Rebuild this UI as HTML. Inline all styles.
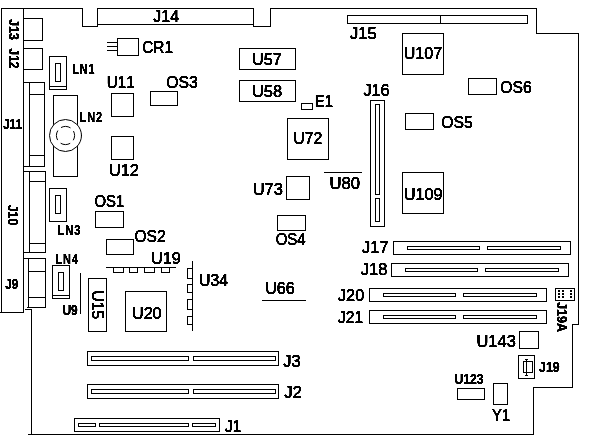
<!DOCTYPE html>
<html><head><meta charset="utf-8"><title>System board</title>
<style>
html,body{margin:0;padding:0;background:#fff;}
svg{display:block}
text{font-family:"Liberation Sans",sans-serif;fill:#000;stroke:#000;stroke-linejoin:round;font-kerning:none}
text.r{font-size:16px;stroke-width:0.45px}
text.b{font-size:14px;font-weight:bold;stroke-width:0.3px}
</style></head><body>
<svg width="600" height="439" viewBox="0 0 600 439">
<rect width="600" height="439" fill="#fff"/>
<g fill="none" stroke="#000" stroke-width="1" stroke-linecap="square" shape-rendering="crispEdges">
<path d="M1.5 8.5L82.5 8.5L82.5 26.5L97.5 26.5L97.5 8.5L253.5 8.5L253.5 26.5L270.5 26.5L270.5 8.5L536.5 8.5L536.5 33.5L578.5 33.5L578.5 324.5L572.5 324.5L572.5 387.5L533.5 387.5L533.5 434.5L28.5 434.5"/>
<path d="M97.5 24.5L253.5 24.5"/>
<path d="M1.5 8.5L1.5 312.5L23.5 312.5L23.5 8.5"/>
<path d="M0.5 312.5L1.5 312.5"/>
<path d="M25.5 309.5L31.5 309.5L31.5 434.5"/>
<rect x="23.5" y="18.5" width="19" height="22"/>
<rect x="23.5" y="48.5" width="19" height="21"/>
<rect x="23.5" y="82.5" width="21" height="84"/>
<path d="M29.5 82.5L29.5 166.5"/>
<path d="M29.5 94.5L44.5 94.5"/>
<path d="M29.5 155.5L44.5 155.5"/>
<rect x="23.5" y="171.5" width="22" height="81"/>
<path d="M29.5 171.5L29.5 252.5"/>
<path d="M29.5 181.5L45.5 181.5"/>
<path d="M29.5 243.5L45.5 243.5"/>
<path d="M23.5 258.5L45.5 258.5L45.5 307.5L27.5 307.5"/>
<path d="M28.5 258.5L28.5 307.5"/>
<path d="M28.5 271.5L45.5 271.5"/>
<path d="M28.5 297.5L45.5 297.5"/>
<rect x="49.5" y="56.5" width="17" height="33"/>
<path d="M49.5 86.5L66.5 86.5"/>
<rect x="55.5" y="63.5" width="5" height="18"/>
<rect x="49.5" y="188.5" width="17" height="33"/>
<rect x="55.5" y="195.5" width="5" height="18"/>
<rect x="52.5" y="265.5" width="17" height="33"/>
<path d="M52.5 295.5L69.5 295.5"/>
<rect x="58.5" y="272.5" width="5" height="18"/>
<rect x="53.5" y="95.5" width="24" height="81"/>
<circle cx="65.5" cy="135.5" r="16" fill="#fff" shape-rendering="geometricPrecision"/>
<circle cx="65.5" cy="135.5" r="9.1" stroke-dasharray="10 4.3" stroke-dashoffset="5" stroke-linecap="butt" shape-rendering="geometricPrecision"/>
<rect x="117.5" y="38.5" width="21" height="17"/>
<path d="M107.5 42.5L117.5 42.5"/>
<path d="M107.5 46.5L117.5 46.5"/>
<path d="M107.5 50.5L117.5 50.5"/>
<rect x="111.5" y="93.5" width="22" height="23"/>
<rect x="111.5" y="136.5" width="22" height="23"/>
<rect x="150.5" y="91.5" width="27" height="14"/>
<rect x="239.5" y="48.5" width="56" height="21"/>
<rect x="239.5" y="80.5" width="56" height="21"/>
<rect x="347.5" y="15.5" width="180" height="8"/>
<path d="M440.5 15.5L440.5 23.5"/>
<rect x="402.5" y="33.5" width="41" height="41"/>
<rect x="402.5" y="172.5" width="41" height="41"/>
<rect x="370.5" y="100.5" width="14" height="126"/>
<rect x="375.5" y="104.5" width="4" height="90"/>
<rect x="375.5" y="198.5" width="4" height="23"/>
<rect x="301.5" y="103.5" width="11" height="6"/>
<rect x="468.5" y="78.5" width="28" height="16"/>
<rect x="405.5" y="113.5" width="28" height="16"/>
<rect x="287.5" y="118.5" width="41" height="41"/>
<rect x="286.5" y="176.5" width="23" height="23"/>
<path d="M324.5 172.5L361.5 172.5"/>
<rect x="277.5" y="215.5" width="28" height="15"/>
<rect x="95.5" y="211.5" width="28" height="16"/>
<rect x="106.5" y="239.5" width="27" height="15"/>
<path d="M106.5 267.5L175.5 267.5"/>
<path d="M113.5 267.5L113.5 272.5L123.5 272.5L123.5 267.5"/>
<path d="M129.5 267.5L129.5 272.5L137.5 272.5L137.5 267.5"/>
<path d="M144.5 267.5L144.5 272.5L154.5 272.5L154.5 267.5"/>
<path d="M161.5 267.5L161.5 272.5L169.5 272.5L169.5 267.5"/>
<path d="M80.5 273.5L80.5 313.5"/>
<rect x="88.5" y="278.5" width="18" height="53"/>
<rect x="125.5" y="291.5" width="41" height="40"/>
<path d="M192.5 261.5L192.5 330.5"/>
<path d="M192.5 268.5L187.5 268.5L187.5 278.5L192.5 278.5"/>
<path d="M192.5 284.5L187.5 284.5L187.5 292.5L192.5 292.5"/>
<path d="M192.5 299.5L187.5 299.5L187.5 309.5L192.5 309.5"/>
<path d="M192.5 316.5L187.5 316.5L187.5 324.5L192.5 324.5"/>
<path d="M262.5 300.5L305.5 300.5"/>
<rect x="393.5" y="241.5" width="177" height="13"/>
<rect x="407.5" y="246.5" width="72" height="3"/>
<rect x="487.5" y="246.5" width="73" height="3"/>
<rect x="391.5" y="263.5" width="177" height="13"/>
<rect x="405.5" y="268.5" width="72" height="3"/>
<rect x="485.5" y="268.5" width="73" height="3"/>
<rect x="369.5" y="288.5" width="177" height="13"/>
<rect x="383.5" y="293.5" width="72" height="3"/>
<rect x="463.5" y="293.5" width="73" height="3"/>
<rect x="369.5" y="310.5" width="177" height="13"/>
<rect x="383.5" y="315.5" width="72" height="3"/>
<rect x="463.5" y="315.5" width="73" height="3"/>
<rect x="555.5" y="288.5" width="19" height="12"/>
<rect x="558" y="290" width="2" height="2" fill="#000" stroke="none"/>
<rect x="558" y="293" width="2" height="2" fill="#000" stroke="none"/>
<rect x="558" y="296" width="2" height="2" fill="#000" stroke="none"/>
<rect x="562" y="290" width="2" height="2" fill="#000" stroke="none"/>
<rect x="562" y="293" width="2" height="2" fill="#000" stroke="none"/>
<rect x="562" y="296" width="2" height="2" fill="#000" stroke="none"/>
<rect x="570" y="290" width="2" height="2" fill="#000" stroke="none"/>
<rect x="570" y="293" width="2" height="2" fill="#000" stroke="none"/>
<rect x="570" y="296" width="2" height="2" fill="#000" stroke="none"/>
<rect x="519.5" y="331.5" width="19" height="17"/>
<rect x="518.5" y="355.5" width="16" height="23"/>
<rect x="523.5" y="361.5" width="9" height="11"/>
<path d="M526.5 359.5L526.5 375.5"/>
<path d="M525.5 359.5L527.5 359.5"/>
<path d="M525.5 375.5L527.5 375.5"/>
<rect x="457.5" y="388.5" width="27" height="11"/>
<rect x="493.5" y="383.5" width="14" height="21"/>
<rect x="87.5" y="351.5" width="191" height="14"/>
<rect x="91.5" y="356.5" width="97" height="4"/>
<rect x="193.5" y="356.5" width="82" height="4"/>
<rect x="87.5" y="384.5" width="191" height="14"/>
<rect x="91.5" y="389.5" width="97" height="4"/>
<rect x="193.5" y="389.5" width="82" height="4"/>
<rect x="74.5" y="418.5" width="145" height="13"/>
<rect x="78.5" y="423.5" width="17" height="3"/>
<rect x="99.5" y="423.5" width="89" height="3"/>
<rect x="192.5" y="423.5" width="23" height="3"/>
</g>
<defs><filter id="bw" x="0" y="0" width="600" height="439" filterUnits="userSpaceOnUse" color-interpolation-filters="sRGB"><feComponentTransfer><feFuncA type="linear" slope="3" intercept="-0.75"/></feComponentTransfer></filter></defs>
<g filter="url(#bw)">
<text class="r" transform="translate(153.28 22) scale(0.9989 1)">J14</text>
<text class="r" transform="translate(142.14 52.5) scale(0.9650 1)">CR1</text>
<text class="r" transform="translate(106.85 87.5) scale(0.9493 1)">U11</text>
<text class="r" transform="translate(108.97 176) scale(1.0197 1)">U12</text>
<text class="r" transform="translate(166.18 88.2) scale(0.9835 1)">OS3</text>
<text class="r" transform="translate(251.97 65.3) scale(1.0160 1)">U57</text>
<text class="r" transform="translate(251.95 96.5) scale(1.0302 1)">U58</text>
<text class="r" transform="translate(349.97 39.3) scale(1.0392 1)">J15</text>
<text class="r" transform="translate(403.69 59) scale(1.0038 1)">U107</text>
<text class="r" transform="translate(403.66 200) scale(1.0218 1)">U109</text>
<text class="r" transform="translate(363.47 95.8) scale(1.0164 1)">J16</text>
<text class="r" transform="translate(314.80 106.5) scale(0.9298 1)">E1</text>
<text class="r" transform="translate(500.28 92.7) scale(0.9802 1)">OS6</text>
<text class="r" transform="translate(441.18 127.5) scale(0.9825 1)">OS5</text>
<text class="r" transform="translate(293.20 143.8) scale(0.9941 1)">U72</text>
<text class="r" transform="translate(252.65 194.8) scale(1.0341 1)">U73</text>
<text class="r" transform="translate(329.44 189) scale(1.0385 1)">U80</text>
<text class="r" transform="translate(275.71 244.8) scale(0.9370 1)">OS4</text>
<text class="r" transform="translate(94.52 206.5) scale(0.9302 1)">OS1</text>
<text class="r" transform="translate(134.49 242) scale(0.9703 1)">OS2</text>
<text class="r" transform="translate(150.97 264) scale(1.0179 1)">U19</text>
<text class="r" transform="translate(131.98 319) scale(1.0094 1)">U20</text>
<text class="r" transform="translate(199.00 286) scale(0.9892 1)">U34</text>
<text class="r" transform="translate(265.29 294) scale(1.0013 1)">U66</text>
<text class="r" transform="translate(361.97 252.8) scale(1.0326 1)">J17</text>
<text class="r" transform="translate(360.77 274.8) scale(1.0362 1)">J18</text>
<text class="r" transform="translate(337.97 301) scale(1.0172 1)">J20</text>
<text class="r" transform="translate(337.98 323) scale(0.9711 1)">J21</text>
<text class="r" transform="translate(476.46 347) scale(1.0286 1)">U143</text>
<text class="r" transform="translate(492.10 421) scale(0.9247 1)">Y1</text>
<text class="r" transform="translate(283.27 367) scale(1.0191 1)">J3</text>
<text class="r" transform="translate(284.16 398) scale(1.0446 1)">J2</text>
<text class="r" transform="translate(224.98 431.5) scale(0.9674 1)">J1</text>
<text class="r" transform="translate(92 290.31) rotate(90) scale(0.9820 1)">U15</text>
<text class="b" transform="translate(72.23 74) scale(0.7643 1)" style="letter-spacing:1.308px;">LN1</text>
<text class="b" transform="translate(79.62 121.5) scale(0.7775 1)" style="letter-spacing:1.286px;">LN2</text>
<text class="b" transform="translate(57.40 235) scale(0.7998 1)" style="letter-spacing:1.250px;">LN3</text>
<text class="b" transform="translate(55.22 264) scale(0.7823 1)" style="letter-spacing:1.278px;">LN4</text>
<text class="b" transform="translate(62.43 314.8) scale(0.8587 1)">U9</text>
<text class="b" transform="translate(454.42 384.3) scale(0.8717 1)">U123</text>
<text class="b" transform="translate(539.06 371.8) scale(0.8795 1)">J19</text>
<text class="b" transform="translate(3.28 129) scale(0.7954 1)">J11</text>
<text class="b" transform="translate(5.17 288.5) scale(0.8423 1)">J9</text>
<text class="b" transform="translate(8.8 19.16) rotate(90) scale(0.8834 1)">J13</text>
<text class="b" transform="translate(8.8 48.57) rotate(90) scale(0.8545 1)">J12</text>
<text class="b" transform="translate(7.7 204.76) rotate(90) scale(0.8816 1)">J10</text>
<text class="b" transform="translate(556.8 302.16) rotate(90) scale(0.8909 1)">J19A</text>
</g>
</svg>
</body></html>
